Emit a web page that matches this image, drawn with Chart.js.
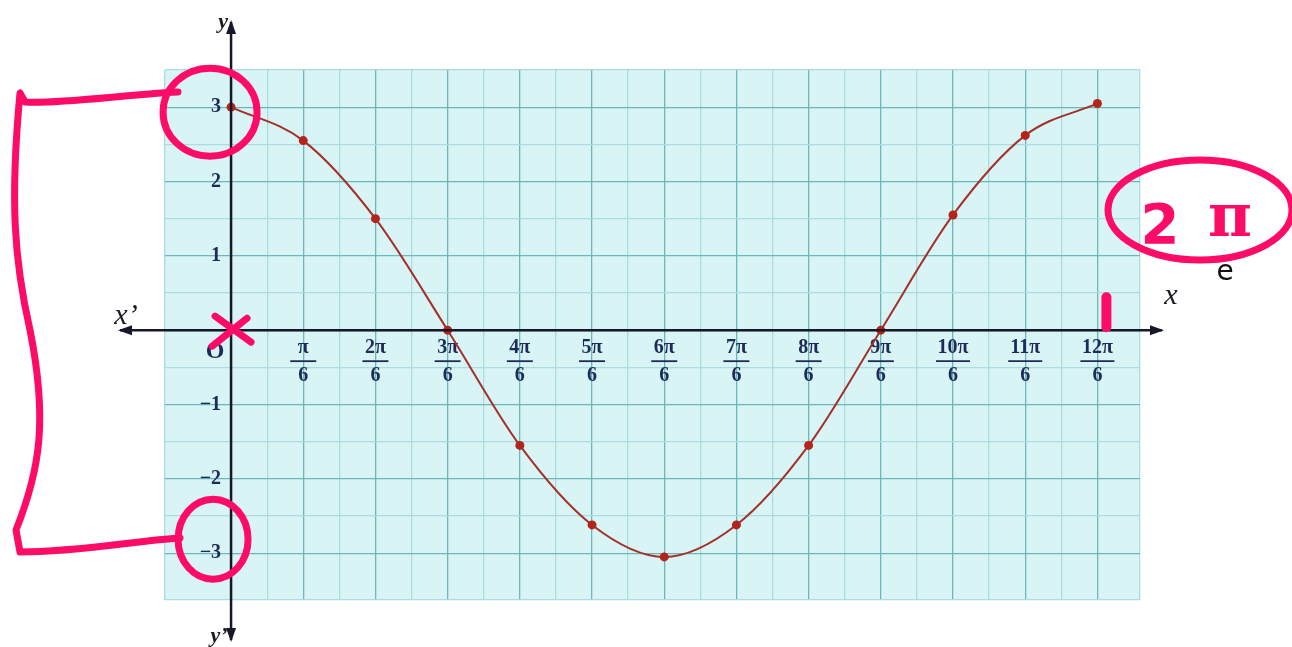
<!DOCTYPE html>
<html>
<head>
<meta charset="utf-8">
<script src="https://cdn.jsdelivr.net/npm/chart.js@4"></script>
<style>
  html, body { margin: 0; padding: 0; background: #fff; }
  #wrap { width: 1292px; height: 647px; position: relative; }
</style>
</head>
<body>
<div id="wrap"><canvas id="cosChart"></canvas></div>
<script>
// x in multiples of pi/6, y = 3cos(x) as plotted in the picture
var xSteps = [0, 1, 2, 3, 4, 5, 6, 7, 8, 9, 10, 11, 12];
var yValues = [3, 2.55, 1.5, 0, -1.55, -2.62, -3.05, -2.62, -1.55, 0, 1.55, 2.62, 3.05];
var xTickNumerators = ['π', '2π', '3π', '4π', '5π', '6π', '7π', '8π', '9π', '10π', '11π', '12π'];
var xTickDenominator = '6';
var yTickValues = [-3, -2, -1, 1, 2, 3];

var pink = '#fd0c67';
var labelColor = '#1e2b58';

var paperPlugin = {
    id: 'paper',
    beforeDraw: function(chart) {
        var a = chart.chartArea, c = chart.ctx;
        c.save();
        c.fillStyle = '#d8f4f4';
        c.fillRect(a.left, a.top, a.right - a.left, a.bottom - a.top);
        c.restore();
    },
    afterDraw: function(chart) {
        var c = chart.ctx;
        var xs = chart.scales.x, ys = chart.scales.y;
        var x0 = xs.getPixelForValue(0), y0 = ys.getPixelForValue(0);
        c.save();
        // axes with arrows
        c.strokeStyle = '#16182a';
        c.fillStyle = '#16182a';
        c.lineWidth = 2.5;
        c.beginPath();
        c.moveTo(x0, 22); c.lineTo(x0, 640);
        c.moveTo(120, y0); c.lineTo(1162, y0);
        c.stroke();
        function arrow(x, y, dx, dy) {
            c.beginPath();
            c.moveTo(x, y);
            c.lineTo(x - dx * 14 - dy * 5, y - dy * 14 - dx * 5);
            c.lineTo(x - dx * 14 + dy * 5, y - dy * 14 + dx * 5);
            c.closePath();
            c.fill();
        }
        arrow(x0, 20, 0, -1);
        arrow(x0, 642, 0, 1);
        arrow(118, y0, -1, 0);
        arrow(1164, y0, 1, 0);

        // fraction bars under x tick numerators
        c.lineWidth = 1.8;
        c.strokeStyle = labelColor;
        xSteps.forEach(function(k) {
            if (k === 0) return;
            var px = xs.getPixelForValue(k);
            var w = xTickNumerators[k - 1].length > 2 ? 17 : 13;
            c.beginPath();
            c.moveTo(px - w, y0 + 31); c.lineTo(px + w, y0 + 31);
            c.stroke();
        });

        // axis names and origin
        c.fillStyle = '#1a1a22';
        c.font = 'italic bold 22px "Liberation Serif"';
        c.textAlign = 'center';
        c.textBaseline = 'middle';
        c.fillText('y', x0 - 8, 22);
        c.fillText('y\u2019', x0 - 12, 636);
        c.font = 'italic 30px "Liberation Serif"';
        c.fillText('x\u2019', 126, y0 - 14);
        c.fillText('x', 1171, y0 - 34);
        c.font = 'bold 24px "Liberation Serif"';
        c.fillStyle = labelColor;
        c.fillText('O', x0 - 16, y0 + 22);

        // pink hand annotations
        c.strokeStyle = pink;
        c.fillStyle = pink;
        c.lineWidth = 7;
        c.lineCap = 'round';
        c.lineJoin = 'round';
        var y3 = ys.getPixelForValue(3), ym3 = ys.getPixelForValue(-3);
        c.beginPath();
        c.ellipse(x0 - 21, y3 + 5, 47, 44, 0, 0, Math.PI * 2);
        c.stroke();
        c.beginPath();
        c.ellipse(x0 - 18, ym3 - 14, 35, 40, 0, 0, Math.PI * 2);
        c.stroke();
        // bracket
        c.beginPath();
        c.moveTo(178, 92);
        c.bezierCurveTo(120, 95, 60, 104, 25, 102);
        c.lineTo(20, 93);
        c.bezierCurveTo(10, 200, 14, 260, 30, 330);
        c.bezierCurveTo(48, 420, 40, 470, 16, 530);
        c.lineTo(20, 552);
        c.bezierCurveTo(80, 552, 140, 540, 180, 538);
        c.stroke();
        // cross at origin
        c.beginPath();
        c.moveTo(x0 - 16, y0 - 14); c.lineTo(x0 + 20, y0 + 12);
        c.moveTo(x0 - 19, y0 + 16); c.lineTo(x0 + 16, y0 - 12);
        c.stroke();
        // mark at 2pi
        var x12 = xs.getPixelForValue(12);
        c.lineWidth = 10;
        c.beginPath();
        c.moveTo(x12 + 9, y0 - 33); c.lineTo(x12 + 9, y0 - 3);
        c.stroke();
        // circled 2pi
        c.lineWidth = 7;
        c.beginPath();
        c.ellipse(1200, 210, 92, 50, 0, 0, Math.PI * 2);
        c.stroke();
        c.font = 'bold 56px "DejaVu Sans"';
        c.textAlign = 'center';
        c.fillText('2', 1160, 228);
        c.font = 'bold 60px "DejaVu Serif"';
        c.fillText('π', 1230, 220);
        c.fillStyle = '#111';
        c.font = '28px "DejaVu Sans"';
        c.fillText('e', 1225, 273);
        c.restore();
    }
};

function gridColor(ctx) {
    var v = ctx.tick ? ctx.tick.value : 0;
    if (Number.isInteger(v)) return '#6bb7bc';
    return '#acdcdf';
}

var ctx = document.getElementById('cosChart');
var cosChart = new Chart(ctx, {
    type: 'line',
    plugins: [paperPlugin],
    data: {
        datasets: [{
            label: 'y = 3cos x',
            data: xSteps.map(function(k, i) { return { x: k, y: yValues[i] }; }),
            borderColor: '#a3302a',
            backgroundColor: '#b3241b',
            borderWidth: 2,
            pointRadius: 4.5,
            pointBorderWidth: 0,
            cubicInterpolationMode: 'monotone',
            fill: false
        }]
    },
    options: {
        responsive: true,
        maintainAspectRatio: false,
        animation: false,
        layout: { padding: { left: 165, right: 152, top: 70, bottom: 47 } },
        plugins: {
            legend: { display: false },
            tooltip: { enabled: false }
        },
        scales: {
            x: {
                type: 'linear',
                position: { y: 0 },
                min: -0.915,
                max: 12.59,
                border: { display: false },
                grid: { color: gridColor, lineWidth: 1.3, drawTicks: false },
                ticks: {
                    stepSize: 0.5,
                    autoSkip: false,
                    maxRotation: 0,
                    padding: 4,
                    color: labelColor,
                    font: { family: 'Liberation Serif', size: 20, weight: 'bold', lineHeight: 1.4 },
                    callback: function(v) {
                        if (!Number.isInteger(v) || v < 1 || v > 12) return '';
                        return [xTickNumerators[v - 1], xTickDenominator];
                    }
                }
            },
            y: {
                type: 'linear',
                position: { x: 0 },
                min: -3.63,
                max: 3.5,
                border: { display: false },
                grid: { color: gridColor, lineWidth: 1.3, drawTicks: false },
                ticks: {
                    stepSize: 0.5,
                    autoSkip: false,
                    color: labelColor,
                    font: { family: 'Liberation Serif', size: 20, weight: 'bold' },
                    callback: function(v) {
                        if (yTickValues.indexOf(v) < 0) return '';
                        // centred axis ignores padding, so a trailing en space keeps the gap
                        return (v < 0 ? '\u2212' + Math.abs(v) : String(v)) + '\u2002';
                    }
                }
            }
        }
    }
});
</script>
</body>
</html>
